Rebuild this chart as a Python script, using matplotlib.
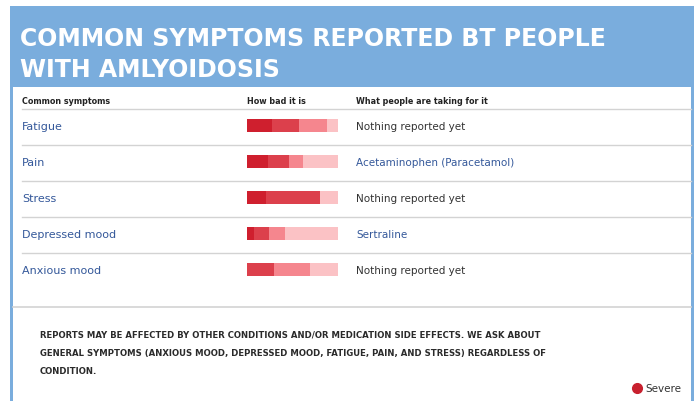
import matplotlib
matplotlib.use("Agg")
import matplotlib.pyplot as plt
import numpy as np
from matplotlib.patches import Rectangle

# data
symptoms = ["Fatigue", "Pain", "Stress", "Depressed mood", "Anxious mood"]
severe = [0.27, 0.23, 0.21, 0.08, 0.00]
moderate = [0.30, 0.23, 0.59, 0.16, 0.30]
mild = [0.31, 0.15, 0.00, 0.18, 0.39]
none = [0.12, 0.39, 0.20, 0.58, 0.31]
treatments = ["Nothing reported yet", "Acetaminophen (Paracetamol)",
              "Nothing reported yet", "Sertraline", "Nothing reported yet"]
treatment_known = [False, True, False, True, False]

title_lines = ["COMMON SYMPTOMS REPORTED BT PEOPLE", "WITH AMLYOIDOSIS"]
headers = ["Common symptoms", "How bad it is", "What people are taking for it"]
footnote = ["REPORTS MAY BE AFFECTED BY OTHER CONDITIONS AND/OR MEDICATION SIDE EFFECTS. WE ASK ABOUT",
            "GENERAL SYMPTOMS (ANXIOUS MOOD, DEPRESSED MOOD, FATIGUE, PAIN, AND STRESS) REGARDLESS OF",
            "CONDITION."]

BLUE = "#7aaddd"
LINK = "#34589a"
seg_colors = ["#cf1f2e", "#dc404c", "#f5868e", "#fbc2c5"]

fig = plt.figure(figsize=(6.97, 4.02), dpi=100)
ax = fig.add_axes([0, 0, 1, 1])
ax.set_xlim(0, 697)
ax.set_ylim(402, 0)
ax.axis("off")

# frame and title band
ax.add_patch(Rectangle((10, 7), 684, 81, color=BLUE, lw=0))
ax.add_patch(Rectangle((10, 88), 3, 314, color=BLUE, lw=0))
ax.add_patch(Rectangle((691, 88), 3, 314, color=BLUE, lw=0))
for i, line in enumerate(title_lines):
    ax.text(20, 46 + 31 * i, line, color="white", fontsize=17.0, fontweight="bold",
            va="baseline", ha="left")

# header row
hx = [22, 247, 356]
for x, h in zip(hx, headers):
    ax.text(x, 101, h, fontsize=5.8, fontweight="bold", color="#222222", va="center")

row_y = 126 + 36 * np.arange(len(symptoms))
for y in row_y - 16:
    ax.plot([22, 691], [y, y], color="#d3d3d3", lw=1)
ax.plot([13, 691], [308, 308], color="#d3d3d3", lw=1.2)

# severity bars
bar_x, bar_w = 247, 91
left = np.zeros(len(symptoms))
for vals, c in zip([severe, moderate, mild, none], seg_colors):
    vals = np.array(vals)
    ax.barh(row_y, vals * bar_w, left=bar_x + left * bar_w, height=13, color=c, lw=0)
    left += vals

for y, s, t, k in zip(row_y, symptoms, treatments, treatment_known):
    ax.text(22, y + 1, s, fontsize=8, color=LINK, va="center")
    ax.text(356, y + 1, t, fontsize=7.5, color=LINK if k else "#333333", va="center")

# footnote
for i, line in enumerate(footnote):
    ax.text(40, 335 + 18.5 * i, line, fontsize=6.1, fontweight="bold",
            color="#2a2a2a", va="center")

ax.plot([637], [389], "o", color="#c8202e", ms=7)
ax.text(645, 389, "Severe", fontsize=7.5, color="#333333", va="center")

fig.savefig("out.png", dpi=100)
